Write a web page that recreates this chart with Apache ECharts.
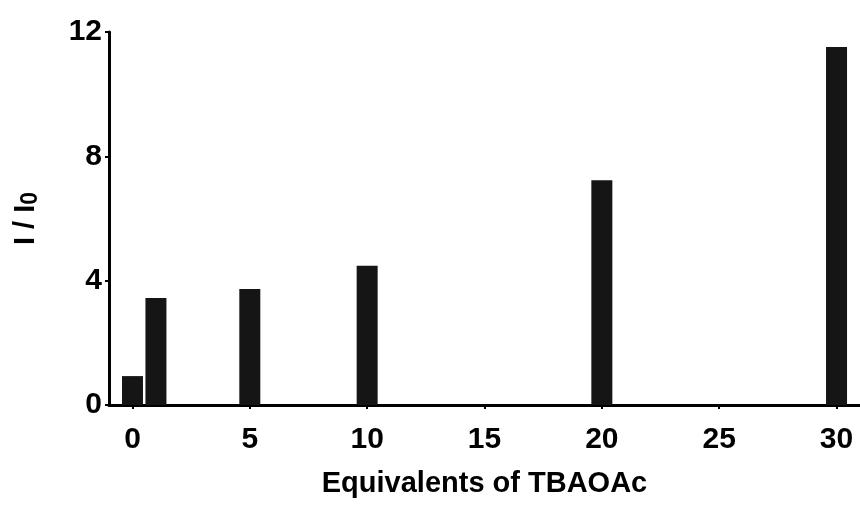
<!DOCTYPE html>
<html>
<head>
<meta charset="utf-8">
<script src="https://cdn.jsdelivr.net/npm/echarts@6/dist/echarts.min.js"></script>
<style>
  html, body { margin: 0; padding: 0; background: #fff; }
  #chart { width: 860px; height: 510px; }
</style>
</head>
<body>
<div id="chart"></div>
<script>
// equivalents of TBAOAc added, and the relative intensity I/I0
const equivalents = [0, 1, 5, 10, 20, 30];
const intensity = [0.93, 3.44, 3.73, 4.48, 7.23, 11.52];
const xTicks = [0, 5, 10, 15, 20, 25, 30];
const yTicks = [0, 4, 8, 12];

const font = 'Liberation Sans, Arial, Helvetica, sans-serif';

const chart = echarts.init(document.getElementById('chart'), null, { renderer: 'canvas' });

const option = {
  animation: false,
  grid: { left: 109, right: 0, top: 32, bottom: 105 },
  xAxis: {
    type: 'value',
    min: -1,
    max: 31,
    name: 'Equivalents of TBAOAc',
    nameLocation: 'middle',
    nameGap: 64,
    nameTextStyle: { fontFamily: font, fontSize: 29, fontWeight: 'bold', color: '#000' },
    axisLine: { show: true, onZero: false, lineStyle: { color: '#000', width: 3 } },
    axisTick: { show: true, length: 4, customValues: xTicks, lineStyle: { color: '#000', width: 2 } },
    axisLabel: {
      customValues: xTicks,
      margin: 20,
      fontFamily: font, fontSize: 30, fontWeight: 'bold', color: '#000'
    },
    splitLine: { show: false }
  },
  yAxis: {
    type: 'value',
    min: 0,
    max: 12,
    interval: 4,
    name: 'I / I{sub|0}',
    nameLocation: 'middle',
    nameGap: 67,
    nameRotate: 90,
    nameTextStyle: {
      fontFamily: font, fontSize: 29, fontWeight: 'bold', color: '#000',
      rich: {
        sub: { fontFamily: font, fontSize: 23, fontWeight: 'bold', color: '#000', verticalAlign: 'bottom', padding: [10, 0, 0, 0] }
      }
    },
    axisLine: { show: true, onZero: false, lineStyle: { color: '#000', width: 3 } },
    axisTick: { show: true, length: 4, lineStyle: { color: '#000', width: 2 } },
    axisLabel: {
      margin: 7,
      fontFamily: font, fontSize: 30, fontWeight: 'bold', color: '#000',
      formatter: v => (yTicks.indexOf(v) >= 0 ? String(v) : '')
    },
    splitLine: { show: false }
  },
  series: [{
    type: 'bar',
    barWidth: 21,
    itemStyle: { color: '#151515' },
    data: equivalents.map((x, i) => [x, intensity[i]])
  }]
};

chart.setOption(option);
</script>
</body>
</html>
